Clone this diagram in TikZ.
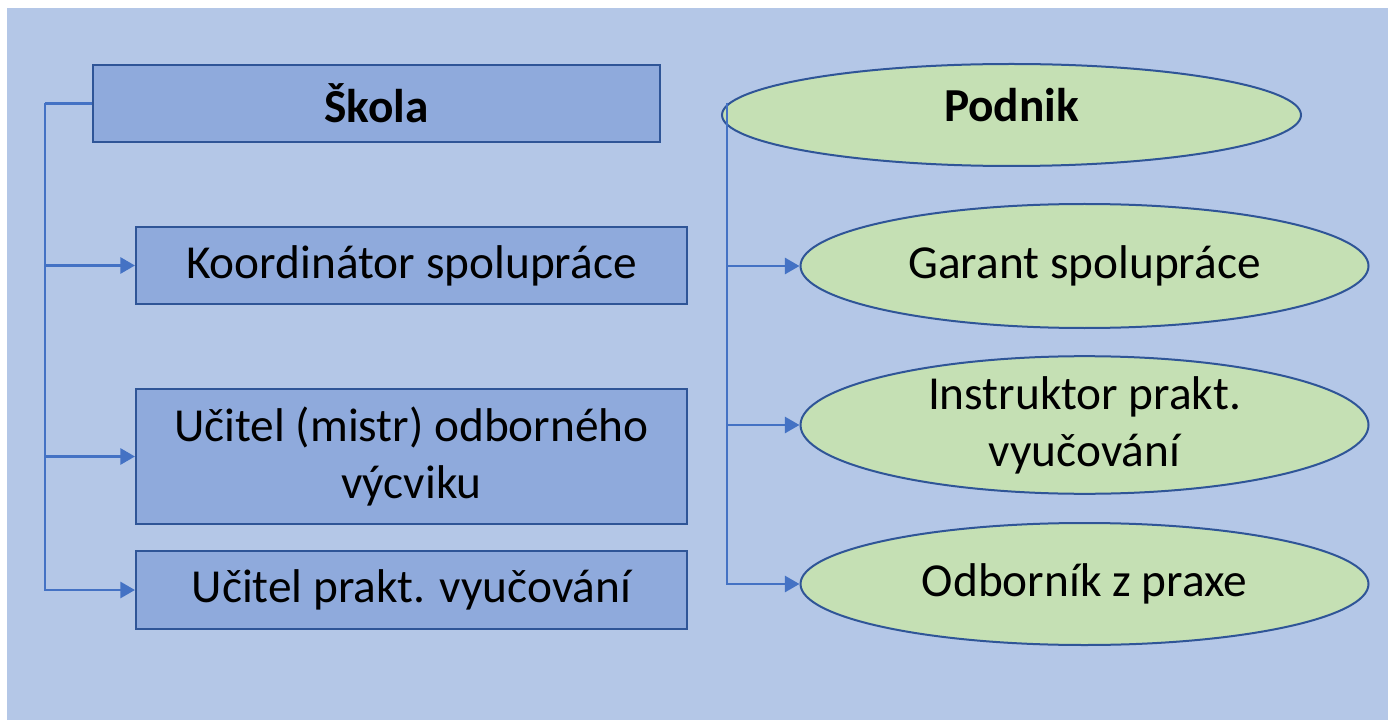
\documentclass[tikz,border=0pt]{standalone}
\usepackage{fontspec}
\setmainfont{Carlito}
\usetikzlibrary{shapes.geometric,arrows.meta,calc}
\definecolor{bgblue}{HTML}{B4C7E7}
\definecolor{boxfill}{HTML}{8FAADC}
\definecolor{edgeblue}{HTML}{2F5597}
\definecolor{greenfill}{HTML}{C5E0B4}
\definecolor{connblue}{HTML}{4472C4}
\tikzset{
  sbox/.style={draw=edgeblue, line width=1.5pt, fill=boxfill, rectangle, inner sep=0pt,
    align=center, font=\fontsize{35.5}{42.6}\selectfont, text=black},
  pell/.style={draw=edgeblue, line width=1.5pt, fill=greenfill, ellipse, inner sep=0pt,
    align=center, font=\fontsize{35.5}{42.6}\selectfont, text=black},
  conn/.style={draw=connblue, line width=2.2pt},
  arr/.style={conn, -{Triangle[length=11pt,width=12pt]}}
}
\begin{document}
\begin{tikzpicture}[x=0.75pt,y=-0.75pt]
\useasboundingbox (0,0) rectangle (1388,720);
\fill[bgblue] (7,8) rectangle (1388,720);

% left column
\node[sbox, minimum width=567*0.75pt, minimum height=77*0.75pt, font=\fontsize{35.5}{42.6}\selectfont\bfseries] (skola) at (376.5,103.5) {Škola};
\node[sbox, minimum width=551*0.75pt, minimum height=77*0.75pt] (koord) at (411.5,265.5) {\raisebox{-2pt}{Koordinátor spolupráce}};
\node[sbox, minimum width=551*0.75pt, minimum height=135*0.75pt] (ucitel) at (411.5,456.5) {Učitel (mistr) odborného\\výcviku};
\node[sbox, minimum width=551*0.75pt, minimum height=78*0.75pt] (uprakt) at (411.5,590) {Učitel prakt. vyučování};

% right column
\node[pell, minimum width=579*0.75pt, minimum height=102*0.75pt, font=\fontsize{35.5}{42.6}\selectfont\bfseries] (podnik) at (1011.5,115) {\raisebox{15pt}{Podnik}};
\node[pell, minimum width=568*0.75pt, minimum height=124*0.75pt] (garant) at (1084.5,266) {\raisebox{-3pt}{Garant spolupráce}};
\node[pell, minimum width=568*0.75pt, minimum height=125*0.75pt] (instr) at (1084.5,425) {Instruktor prakt.\\vyučování};
\node[pell, minimum width=568*0.75pt, minimum height=122*0.75pt] (odb) at (1084.5,584) {Odborník z praxe};

% left connectors
\coordinate (lbus) at (45,103.5);
\draw[conn] (skola.west) -- (lbus);
\draw[arr] (lbus) |- (koord.west);
\draw[arr] (lbus) |- (ucitel.west);
\draw[arr] (lbus) |- (uprakt.west);

% right connectors
\coordinate (rbus) at ($(podnik.west)+(6,-12)$);
\draw[arr] (rbus) |- (garant.west);
\draw[arr] (rbus) |- (instr.west);
\draw[arr] (rbus) |- (odb.west);
\end{tikzpicture}
\end{document}
